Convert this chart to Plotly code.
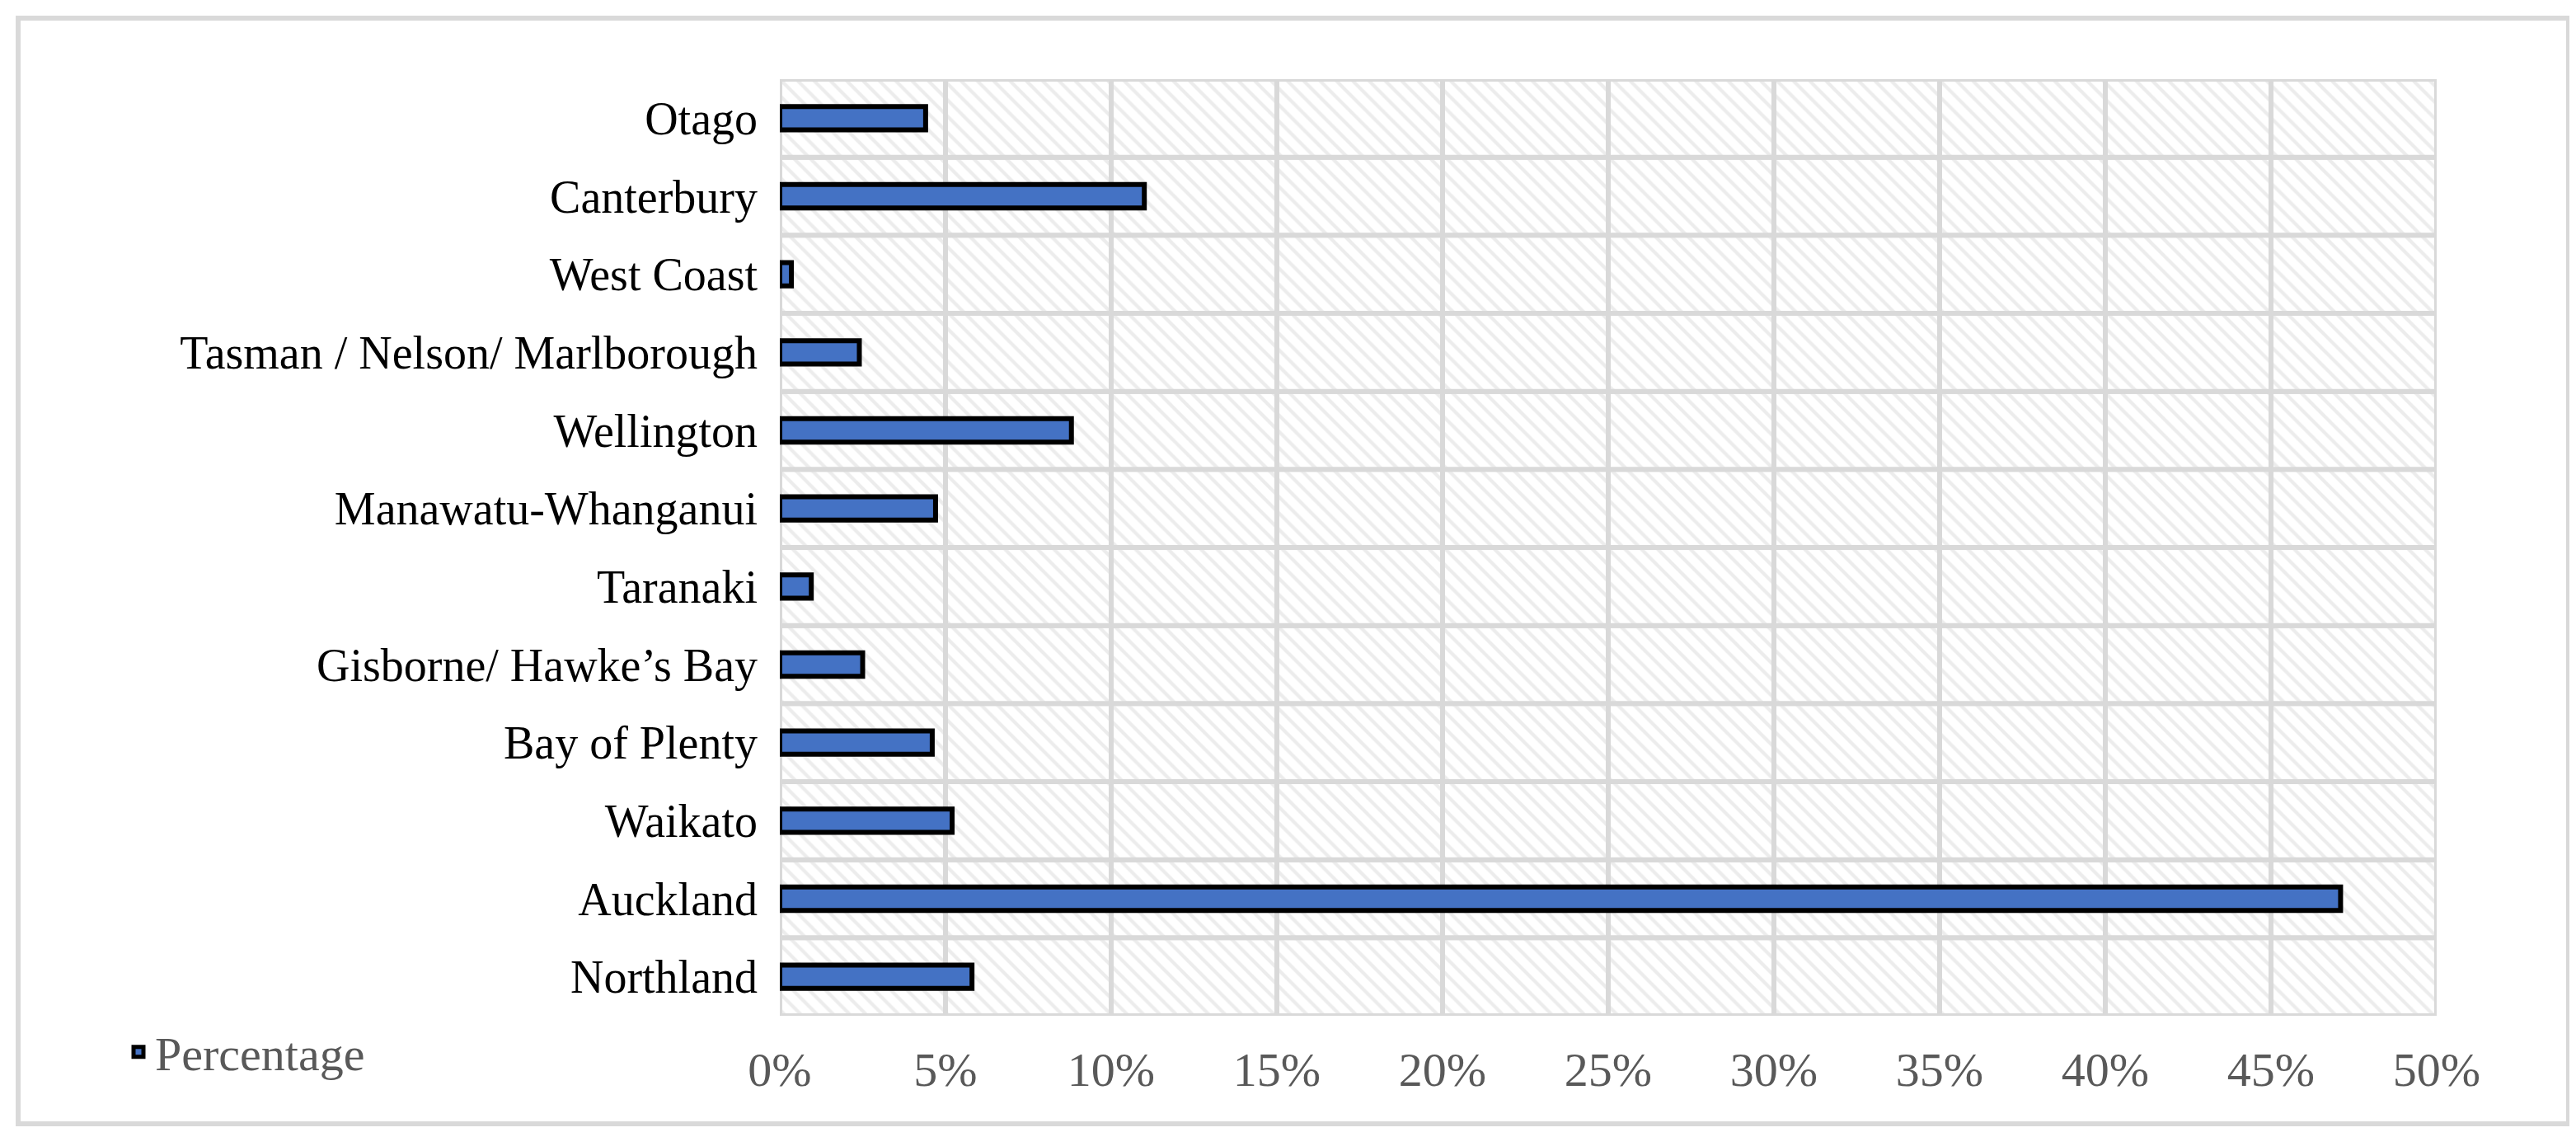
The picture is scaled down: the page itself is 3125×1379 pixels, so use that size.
import plotly.graph_objects as go

regions = ["Northland", "Auckland", "Waikato", "Bay of Plenty", "Gisborne/ Hawke’s Bay",
           "Taranaki", "Manawatu-Whanganui", "Wellington", "Tasman / Nelson/ Marlborough",
           "West Coast", "Canterbury", "Otago"]
percentage = [5.8, 47.1, 5.2, 4.6, 2.5, 0.95, 4.7, 8.8, 2.4, 0.35, 11.0, 4.4]
tick_vals = [0, 5, 10, 15, 20, 25, 30, 35, 40, 45, 50]
tick_text = [f"{v}%" for v in tick_vals]

W, H = 3125, 1379
L, R, T, B = 938, 2948, 88, 1224

hy, hx, hb = [], [], []
for r in regions:
    for v in tick_vals[:-1]:
        hy.append(r); hx.append(5); hb.append(v)

fig = go.Figure()
fig.add_trace(go.Bar(
    y=hy, x=hx, base=hb, orientation="h", width=1, showlegend=False, hoverinfo="skip",
    marker=dict(color="white", line=dict(color="#d9d9d9", width=6),
                pattern=dict(shape="\\", fgcolor="#d9d9d9", bgcolor="white", size=14, solidity=0.3)),
))
fig.add_trace(go.Bar(
    y=regions, x=percentage, orientation="h", width=0.3, name="Percentage",
    marker=dict(color="#4472c4", line=dict(color="black", width=6)),
))
fig.update_layout(
    width=W, height=H, barmode="overlay",
    margin=dict(l=L, r=W - R, t=T, b=H - B),
    paper_bgcolor="white", plot_bgcolor="white",
    font=dict(family="Liberation Serif", size=58, color="black"),
    xaxis=dict(range=[0, 50], tickvals=tick_vals, ticktext=tick_text, showgrid=False,
               zeroline=False, tickfont=dict(color="#595959", size=58), ticklabelstandoff=26),
    yaxis=dict(categoryorder="array", categoryarray=regions, showgrid=False,
               tickfont=dict(color="black", size=56), ticklabelstandoff=26),
    legend=dict(x=(140 - L) / (R - L), y=(B - 1268) / (B - T), xanchor="left", yanchor="middle",
                font=dict(color="#595959", size=58), bgcolor="rgba(0,0,0,0)"),
    shapes=[dict(type="rect", xref="paper", yref="paper",
                 x0=(14 - L) / (R - L), x1=(3108 - L) / (R - L),
                 y0=(B - 1355) / (B - T), y1=(B - 14) / (B - T),
                 line=dict(color="#d9d9d9", width=6), layer="below")],
)
fig.write_html("out.html")
